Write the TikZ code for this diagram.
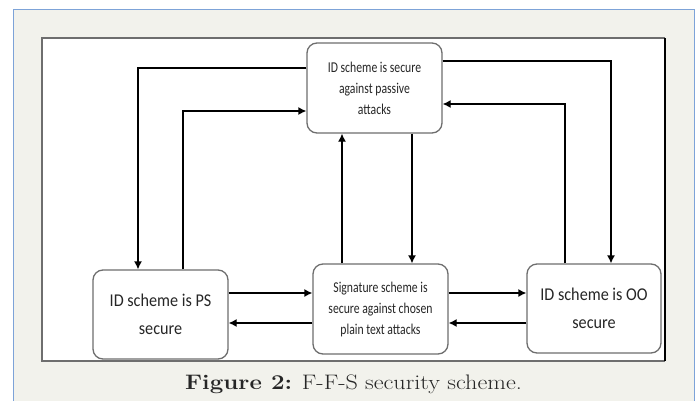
\documentclass[tikz,border=0pt]{standalone}
\usepackage{fontspec}
\newfontfamily\carlA[FakeStretch=0.78]{Carlito}
\newfontfamily\carlB[FakeStretch=0.9]{Carlito}
\newfontfamily\capfont[FakeStretch=1.15]{Latin Modern Roman}
\usetikzlibrary{arrows.meta}
\definecolor{framebg}{HTML}{F2F2EC}
\definecolor{frameline}{HTML}{7DA3D8}
\definecolor{boxline}{HTML}{6E6E6E}
\definecolor{txt}{HTML}{262626}
\tikzset{
  box/.style={draw=boxline, line width=1.3pt, fill=white, rounded corners=10pt, inner sep=0pt, align=center, text=txt},
  smalltxt/.style={font=\carlA\fontsize{15}{21}\selectfont},
  bigtxt/.style={font=\carlB\fontsize{18}{28}\selectfont},
  arr/.style={line width=1.3pt, -{Latex[length=8pt,width=8pt]}},
  ln/.style={line width=1.3pt}
}
\begin{document}
\begin{tikzpicture}[x=1pt,y=-1pt]
\useasboundingbox (0,0) rectangle (697,400);
\fill[white] (0,0) rectangle (697,400);
\draw[frameline, fill=framebg, line width=1pt] (13,9) rectangle (694,410);
\fill[white] (42,38) rectangle (665,361);
\draw[boxline, line width=1.5pt] (665,38) -- (42,38) -- (42,361) -- (665,361);
\draw[black, line width=1.3pt] (665,38) -- (665,361);

\node[box, smalltxt, minimum width=135pt, minimum height=90pt] (top) at (374.5,88) {ID scheme is secure\\against passive\\attacks};
\node[box, bigtxt, minimum width=135pt, minimum height=89pt] (lft) at (160.5,314.5) {ID scheme is PS\\secure};
\node[box, smalltxt, minimum width=135pt, minimum height=90pt] (mid) at (380.5,309) {Signature scheme is\\secure against chosen\\plain text attacks};
\node[box, bigtxt, minimum width=134pt, minimum height=89pt] (rgt) at (594,308.5) {ID scheme is OO\\secure};

% top <-> left
\draw[arr] (top.west |- 0,68) -| (lft.north -| 138,0);
\draw[arr] (lft.north -| 183,0) |- (top.west |- 0,111);
% top <-> right
\draw[arr] (top.east |- 0,61) -| (rgt.north -| 611,0);
\draw[arr] (rgt.north -| 565,0) |- (top.east |- 0,104);
% top <-> middle
\draw[arr] (mid.north -| 342,0) -- (top.south -| 342,0);
\draw[arr] (top.south -| 412,0) -- (mid.north -| 412,0);
% bottom row
\draw[arr] (lft.east |- 0,293) -- (mid.west |- 0,293);
\draw[arr] (mid.west |- 0,323) -- (lft.east |- 0,323);
\draw[arr] (mid.east |- 0,293) -- (rgt.west |- 0,293);
\draw[arr] (rgt.west |- 0,323) -- (mid.east |- 0,323);

\node[font=\capfont\fontsize{21}{24}\selectfont, text=txt, anchor=base, inner sep=0pt] (cap) at (353.5,389) {\textbf{Figure 2:} F-F-S security scheme.};
\end{tikzpicture}
\end{document}
